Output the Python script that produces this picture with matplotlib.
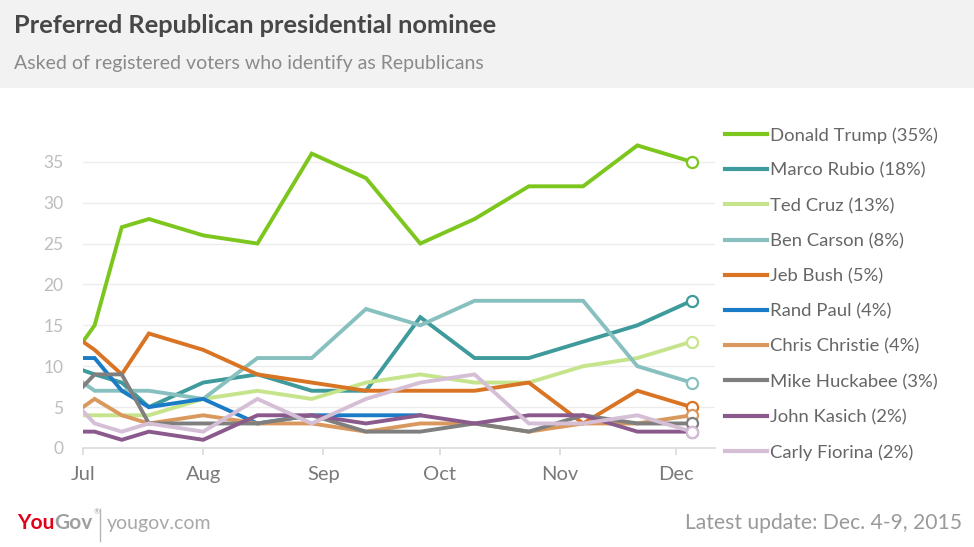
import numpy as np
import pandas as pd
import matplotlib
matplotlib.use('Agg')
import matplotlib.pyplot as plt
import matplotlib.dates as mdates
from matplotlib.lines import Line2D
from matplotlib.patches import Rectangle

nan = np.nan

# poll dates (biweekly YouGov waves)
dates = pd.to_datetime(['2015-07-01', '2015-07-04', '2015-07-11', '2015-07-18',
                        '2015-08-01', '2015-08-15', '2015-08-29', '2015-09-12',
                        '2015-09-26', '2015-10-10', '2015-10-24', '2015-11-07',
                        '2015-11-21', '2015-12-05'])

candidates = ['Donald Trump', 'Marco Rubio', 'Ted Cruz', 'Ben Carson', 'Jeb Bush',
              'Rand Paul', 'Chris Christie', 'Mike Huckabee', 'John Kasich', 'Carly Fiorina']
latest = [35, 18, 13, 8, 5, 4, 4, 3, 2, 2]

trump    = [13, 15, 27, 28, 26, 25, 36, 33, 25, 28, 32, 32, 37, 35]
rubio    = [9.5, 9, 8, 5, 8, 9, 7, 7, 16, 11, 11, 13, 15, 18]
cruz     = [4, 4, 4, 4, 6, 7, 6, 8, 9, 8, 8, 10, 11, 13]
carson   = [8, 7, 7, 7, 6, 11, 11, 17, 15, 18, 18, 18, 10, 8]
bush     = [13, 12, 9, 14, 12, 9, 8, 7, 7, 7, 8, 3, 7, 5]
paul     = [11, 11, 7, 5, 6, 3, 4, 4, 4, nan, nan, nan, nan, nan]
christie = [5, 6, 4, 3, 4, 3, 3, 2, 3, 3, 2, 3, 3, 4]
huckabee = [7.5, 9, 9, 3, 3, 3, 4, 2, 2, 3, 2, 4, 3, 3]
kasich   = [2, 2, 1, 2, 1, 4, 4, 3, 4, 3, 4, 4, 2, 2]
fiorina  = [4.5, 3, 2, 3, 2, 6, 3, 6, 8, 9, 3, 3, 4, 2]

series = [trump, rubio, cruz, carson, bush, paul, christie, huckabee, kasich, fiorina]
colors = ['#7dc61e', '#3f9b9b', '#c6e48b', '#88c0c0', '#d97425',
          '#1a7cc6', '#d9995e', '#7f7f7f', '#8a5a8c', '#d5bfd6']

yticks = [0, 5, 10, 15, 20, 25, 30, 35]

plt.rcParams['font.family'] = ['Lato', 'DejaVu Sans']

fig = plt.figure(figsize=(9.74, 5.47), dpi=100)
fig.patch.set_facecolor('white')

# grey header band
fig.add_artist(Rectangle((0, 0.839), 1, 0.161, transform=fig.transFigure,
                         facecolor='#f2f2f2', edgecolor='none', zorder=0))
fig.text(0.014, 0.940, 'Preferred Republican presidential nominee', fontsize=18.3,
         fontweight='bold', color='#474747', va='baseline')
fig.text(0.014, 0.873, 'Asked of registered voters who identify as Republicans',
         fontsize=14, color='#8a8a8a', va='baseline')

ax = fig.add_axes([0.0852, 0.181, 0.6488, 0.598])
for i, (vals, c) in enumerate(zip(series, colors)):
    v = np.array(vals, dtype=float)
    ax.plot(dates, v, color=c, lw=2.8, solid_joinstyle='miter', zorder=10 + i)
    if not np.isnan(v[-1]):
        ax.plot(dates[-1:], v[-1:], 'o', ms=8, mfc='white', mec=c, mew=1.6,
                zorder=30 + i)

ax.set_ylim(0, 40)
ax.set_xlim(pd.Timestamp('2015-07-01'), pd.Timestamp('2015-12-11'))
ax.set_yticks(yticks)
for y in yticks[1:]:
    ax.axhline(y, color='#ececec', lw=1, zorder=1)

for s in ['top', 'right', 'left']:
    ax.spines[s].set_visible(False)
ax.spines['bottom'].set_color('#dadada')
ax.spines['bottom'].set_linewidth(1.2)

ax.xaxis.set_major_locator(mdates.MonthLocator())
ax.xaxis.set_major_formatter(mdates.DateFormatter('%b'))
ax.tick_params(axis='x', colors='#dadada', length=5, width=1.2, pad=8,
               labelsize=14.5, labelcolor='#7a7a7a')
ax.tick_params(axis='y', length=0, pad=14, labelsize=12.5, labelcolor='#bdbdbd')

# legend, drawn by hand down the right side
for i, (name, pct, c) in enumerate(zip(candidates, latest, colors)):
    y = 1 - (134 + i * 35.2) / 547
    fig.add_artist(Line2D([725 / 974, 767 / 974], [y, y], transform=fig.transFigure,
                          color=c, lw=3))
    fig.text(770 / 974, y, '%s (%d%%)' % (name, pct), fontsize=13.3, color='#666666',
             va='center_baseline')

# footer
r = fig.canvas.get_renderer()
fy = 0.033
t1 = fig.text(17 / 974, fy, 'You', fontsize=15, fontweight='bold', color='#e4001b',
              va='baseline')
x1 = t1.get_window_extent(r).x1 / 974
t2 = fig.text(x1, fy, 'Gov', fontsize=15, fontweight='bold', color='#a0a0a0',
              va='baseline')
x2 = t2.get_window_extent(r).x1 / 974
fig.text(x2 + 0.001, fy + 0.026, '\u00ae', fontsize=5, color='#a0a0a0', va='baseline')
fig.add_artist(Line2D([x2 + 0.008, x2 + 0.008], [0.011, 0.069], transform=fig.transFigure,
                      color='#b5b5b5', lw=1))
fig.text(x2 + 0.015, fy, 'yougov.com', fontsize=14, color='#a8a8a8', va='baseline')
fig.text(962 / 974, fy, 'Latest update: Dec. 4-9, 2015', fontsize=15.2,
         color='#9a9a9a', ha='right', va='baseline')

fig.savefig('out.png', dpi=100)
